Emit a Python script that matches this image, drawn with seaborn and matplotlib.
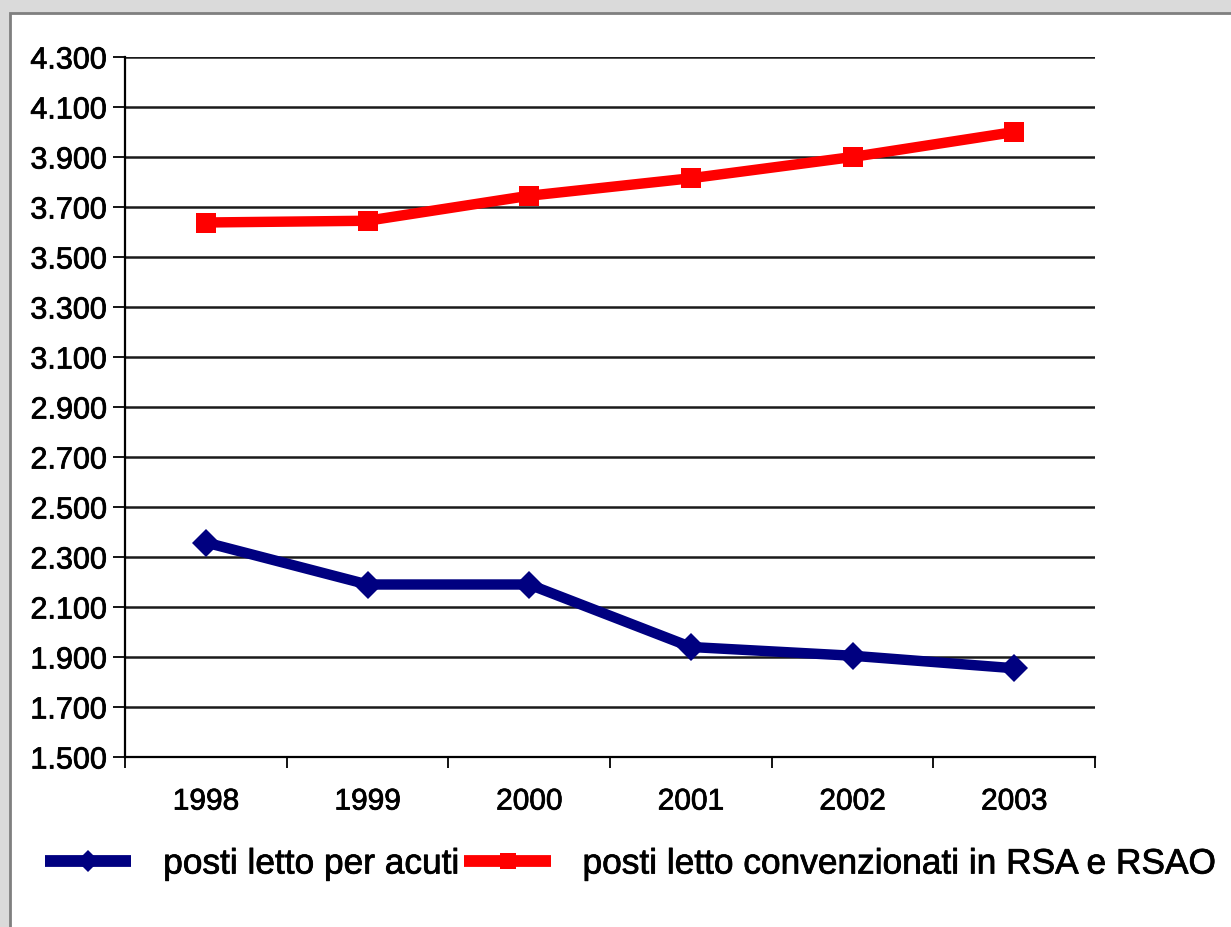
import matplotlib
matplotlib.use("Agg")
import matplotlib.pyplot as plt
import matplotlib.patheffects as pe
from matplotlib.patches import Rectangle
from matplotlib.ticker import FixedLocator, FuncFormatter, MultipleLocator
import pandas as pd
import seaborn as sns

# Posti letto 1998-2003
years = ["1998", "1999", "2000", "2001", "2002", "2003"]
acuti = [2358, 2190, 2190, 1940, 1905, 1855]
rsa = [3638, 3645, 3745, 3815, 3900, 4000]
series_names = ["posti letto per acuti", "posti letto convenzionati in RSA e RSAO"]
y_ticks = list(range(1500, 4301, 200))

df = pd.DataFrame({
    "anno": years * 2,
    "posti": acuti + rsa,
    "serie": [series_names[0]] * len(years) + [series_names[1]] * len(years),
})

sns.set_theme(style="white")
plt.rcParams["font.family"] = ["Liberation Sans", "DejaVu Sans"]
plt.rcParams["text.color"] = "black"

# slightly heavier strokes for all text
heavy = [pe.withStroke(linewidth=0.55, foreground="black")]

fig = plt.figure(figsize=(12.31, 9.27), dpi=100)
fig.patch.set_facecolor("#dadada")
# white panel with a grey frame, kept behind the axes
panel = Rectangle((10 / 1231, -0.01), 1.02, (927 - 13) / 927 + 0.01,
                  transform=fig.transFigure, facecolor="white",
                  edgecolor="#7f7f7f", linewidth=2, zorder=-10)
fig.patches.append(panel)

ax = fig.add_axes([125 / 1231, 1 - 757 / 927, (1095 - 125) / 1231, (757 - 57) / 927])
ax.set_zorder(1)
ax.set_facecolor("white")

palette = {series_names[0]: "#000080", series_names[1]: "#ff0000"}
markers = {series_names[0]: "D", series_names[1]: "s"}
sns.lineplot(data=df, x="anno", y="posti", hue="serie", style="serie",
             palette=palette, markers=markers, dashes=False, linewidth=7.5,
             markersize=14.5, markeredgewidth=0, ax=ax, legend=False,
             sort=False, zorder=5)

ax.set_xlim(-0.5, len(years) - 0.5)
ax.set_ylim(1500, 4300)
ax.yaxis.set_major_locator(FixedLocator(y_ticks))
ax.yaxis.set_major_formatter(FuncFormatter(lambda v, p: f"{v:,.0f}".replace(",", ".")))
ax.grid(axis="y", color="#1a1a1a", linewidth=1.8)
ax.set_axisbelow(True)

ax.xaxis.set_minor_locator(MultipleLocator(1, offset=0.5))
ax.set_xticks(range(len(years)))
ax.set_xticklabels(years)
ax.tick_params(axis="x", which="major", length=0, pad=22, labelsize=21.5, labelcolor="black")
ax.tick_params(axis="x", which="minor", length=8, width=1.3, color="black",
               direction="out", bottom=True)
ax.tick_params(axis="y", length=9, width=1.3, color="black", direction="out",
               labelsize=22, labelcolor="black", pad=4, left=True)
for lbl in ax.get_xticklabels() + ax.get_yticklabels():
    lbl.set_path_effects(heavy)
for side in ["top", "right"]:
    ax.spines[side].set_visible(False)
for side in ["left", "bottom"]:
    ax.spines[side].set_color("black")
    ax.spines[side].set_linewidth(1.6)
ax.set_xlabel("")
ax.set_ylabel("")

handles = [
    plt.Line2D([], [], color="#000080", lw=8.5, marker="D", markersize=11,
               markeredgewidth=0, solid_capstyle="butt"),
    plt.Line2D([], [], color="#ff0000", lw=8.5, marker="s", markersize=11,
               markeredgewidth=0, solid_capstyle="butt"),
]
leg = fig.legend(handles, series_names, loc="center left",
                 bbox_to_anchor=(45 / 1231, 1 - 864 / 927),
                 ncol=2, frameon=False, fontsize=25.4, handlelength=2.45,
                 handletextpad=0.9, columnspacing=0.15, borderpad=0,
                 borderaxespad=0)
for t in leg.get_texts():
    t.set_color("black")
    t.set_path_effects(heavy)

fig.savefig("out.png", dpi=100, facecolor=fig.get_facecolor())
